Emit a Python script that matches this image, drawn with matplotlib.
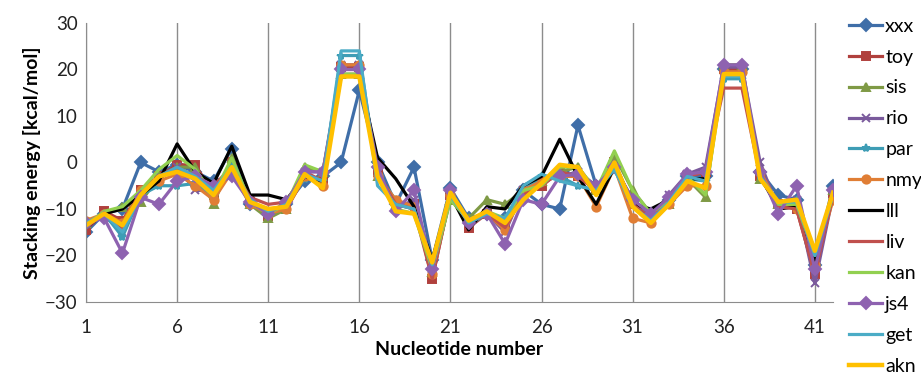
import matplotlib
matplotlib.use("Agg")
import matplotlib.pyplot as plt

plt.rcParams['font.family'] = ['Lato', 'DejaVu Sans']

# nucleotide positions 1..42
nucleotides = list(range(1, 43))

xxx = [-15, -11, -10, 0, -2, -0.5, -2, -4, 3, -9, -11, -9, -4, -3, 0, 15.5, 0, -9, -1, -21,
       -5.5, -12, -11, -12, -6, -9, -10, 8, -5, -1, -8, -11, -8, -3, -3, 20, 20, -2, -7, -8, -22, -5]
toy = [-14.5, -10.5, -12.5, -6, -3, -0.5, -0.5, -7, 0, -8.5, -11.5, -10, -3, -4, 20.5, 20.5, -2, -9, -9, -25,
       -7, -14, -11, -13, -7, -5, -2, -3, -6, 0, -9, -12, -9, -3, -2, 20, 20, -3, -9, -10, -24, -6.5]
sis = [-13, -11, -9.5, -8.5, -3, -1, -1, -9, 1, -9, -12, -10, -1, -2, 19, 19, -3, -9, -10, -23.5,
       -8, -12, -8, -9, -6, -4, -2, -1, -6, 1.5, -6, -11, -9, -3.5, -7.5, 21, 21, -3.5, -9, -9, -21, -6]
rio = [-13, -11.5, -15, -7, -3, -1, -6, -6, -2, -8, -11, -9, -2, -2, 21, 21, -2, -10, -8, -23,
       -7, -13, -11, -15, -6, -4, -3, -2, -5, -1, -8, -11.5, -7, -2.5, -1, 20.5, 20.5, 0, -10, -8, -26, -7]
par = [-13.5, -11, -16, -7, -5, -5, -4.5, -7, -1, -9, -11, -9, -3.5, -4, 23, 23, -3, -8, -10, -22,
       -7, -13.5, -11, -12, -6, -3, -3, -5, -6, -1.5, -9, -12, -8.5, -3.5, -4, 18, 18, -3, -9, -8, -21, -6]
nmy = [-12.5, -11, -13, -6, -4, -2.5, -5, -8, -2, -9, -11, -10, -3, -5, 21, 21, -3, -8, -9.5, -24,
       -7, -13, -11, -14.5, -6, -4, -3, -3, -9.5, -1, -12, -13, -9, -5, -5, 19.5, 19.5, -2, -9, -10, -22, -8]
lll = [-14, -11, -10, -7, -4, 4, -2, -4.5, 3.5, -7, -7, -8, -3, -4, 18.5, 18.5, 1, -3.5, -9.5, -21,
       -7, -14.5, -9.5, -10, -5, -3, 5, -3, -9, -1, -9, -10, -8, -3.5, -3.5, 19, 19, -3, -10, -9.5, -21, -6]
liv = [-14, -11, -14, -6, -3, -1, -3, -5, -1, -7.5, -9, -8.5, -2, -4, 20, 20, -2, -9, -10, -25,
       -7, -13, -11, -14, -7, -5, -2, -3, -6, 0, -9, -12, -8, -3, -2, 16, 16, -3, -9.5, -10, -24, -7]
kan = [-13.5, -10.5, -9.5, -6, -1.5, 1.5, -1.5, -7, 1, -8.5, -11, -9, -0.5, -2, 19, 19, -2, -10, -11, -23,
       -8, -12.5, -10.5, -12, -6, -5, -1, -1, -6, 2.5, -6, -11, -8, -3, -7, 19, 19, -3, -9, -9, -20, -7]
js4 = [-13, -12, -19.5, -7.5, -9, -4, -3, -5, -3, -8.5, -11, -8.5, -2, -2, 20, 20, -1, -10.5, -6, -23,
       -6, -13, -11, -17.5, -8, -9, -3, -2.5, -5, -1, -8, -11, -7.5, -2.5, -2, 21, 21, -2, -11, -5, -23, -6]
get = [-13, -11, -15, -7, -3, -1, -3, -6, -1, -8, -10.5, -9, -2.5, -4, 24, 24, -5, -9, -10, -22,
       -7, -13, -11, -12, -5, -2.5, -4, -5, -6, -1.5, -9.5, -12.5, -8.5, -3, -4, 18.5, 18.5, -3, -8.5, -8.5, -20, -7]
akn = [-13.5, -11, -13.5, -7, -3, -2, -3.5, -7, -1, -8.5, -10, -9.5, -2.5, -5.5, 18.5, 18.5, -3, -10.5, -11, -21.5,
       -6.5, -12.5, -10.5, -13, -8, -4.5, -0.5, -1, -7, 0, -9.5, -13, -9, -4, -5.5, 19, 19, -3.5, -8.5, -8, -19, -6.5]

names = ['xxx', 'toy', 'sis', 'rio', 'par', 'nmy', 'lll', 'liv', 'kan', 'js4', 'get', 'akn']
series = [xxx, toy, sis, rio, par, nmy, lll, liv, kan, js4, get, akn]
colors = ['#3F6EA8', '#B0403D', '#7F9A45', '#7A5A9C', '#3E9DB5', '#E07E35',
          '#000000', '#C0504D', '#92D050', '#8E62B0', '#4BACC6', '#FFC000']
markers = ['D', 's', '^', 'x', '*', 'o', None, None, None, 'D', None, None]

fig = plt.figure(figsize=(9.21, 3.75), dpi=100)
ax = fig.add_axes([0.0934, 0.1947, 0.8111, 0.744])

for name, vals, c, m in zip(names, series, colors, markers):
    lw = 3.2 if name == 'akn' else 2.3
    ax.plot(nucleotides, vals, color=c, marker=m, markersize=6, linewidth=lw,
            markeredgewidth=1.4, label=name)

ax.set_xlim(1, 42)
ax.set_ylim(-30, 30)
ax.set_xticks(range(1, 42, 5))
ax.set_yticks(range(-30, 31, 10))
ax.tick_params(length=0, labelsize=13.5, colors='#222222')
ax.tick_params(axis='x', pad=12)
ax.tick_params(axis='y', pad=6)
ax.xaxis.grid(True, color='#8C8C8C', linewidth=1)
ax.set_axisbelow(True)
for s in ['top', 'right']:
    ax.spines[s].set_visible(False)
for s in ['left', 'bottom']:
    ax.spines[s].set_color('#8C8C8C')

ax.set_xlabel('Nucleotide number', fontsize=14, fontweight='bold', labelpad=4)
ax.set_ylabel('Stacking energy [kcal/mol]', fontsize=14, fontweight='bold', labelpad=3)

ax.legend(loc='upper left', bbox_to_anchor=(0.922, 0.953), bbox_transform=fig.transFigure,
          frameon=False, fontsize=14, handlelength=1.7, handletextpad=0.15,
          labelspacing=0.715, borderaxespad=0, borderpad=0)

fig.savefig('out.png', dpi=100)
